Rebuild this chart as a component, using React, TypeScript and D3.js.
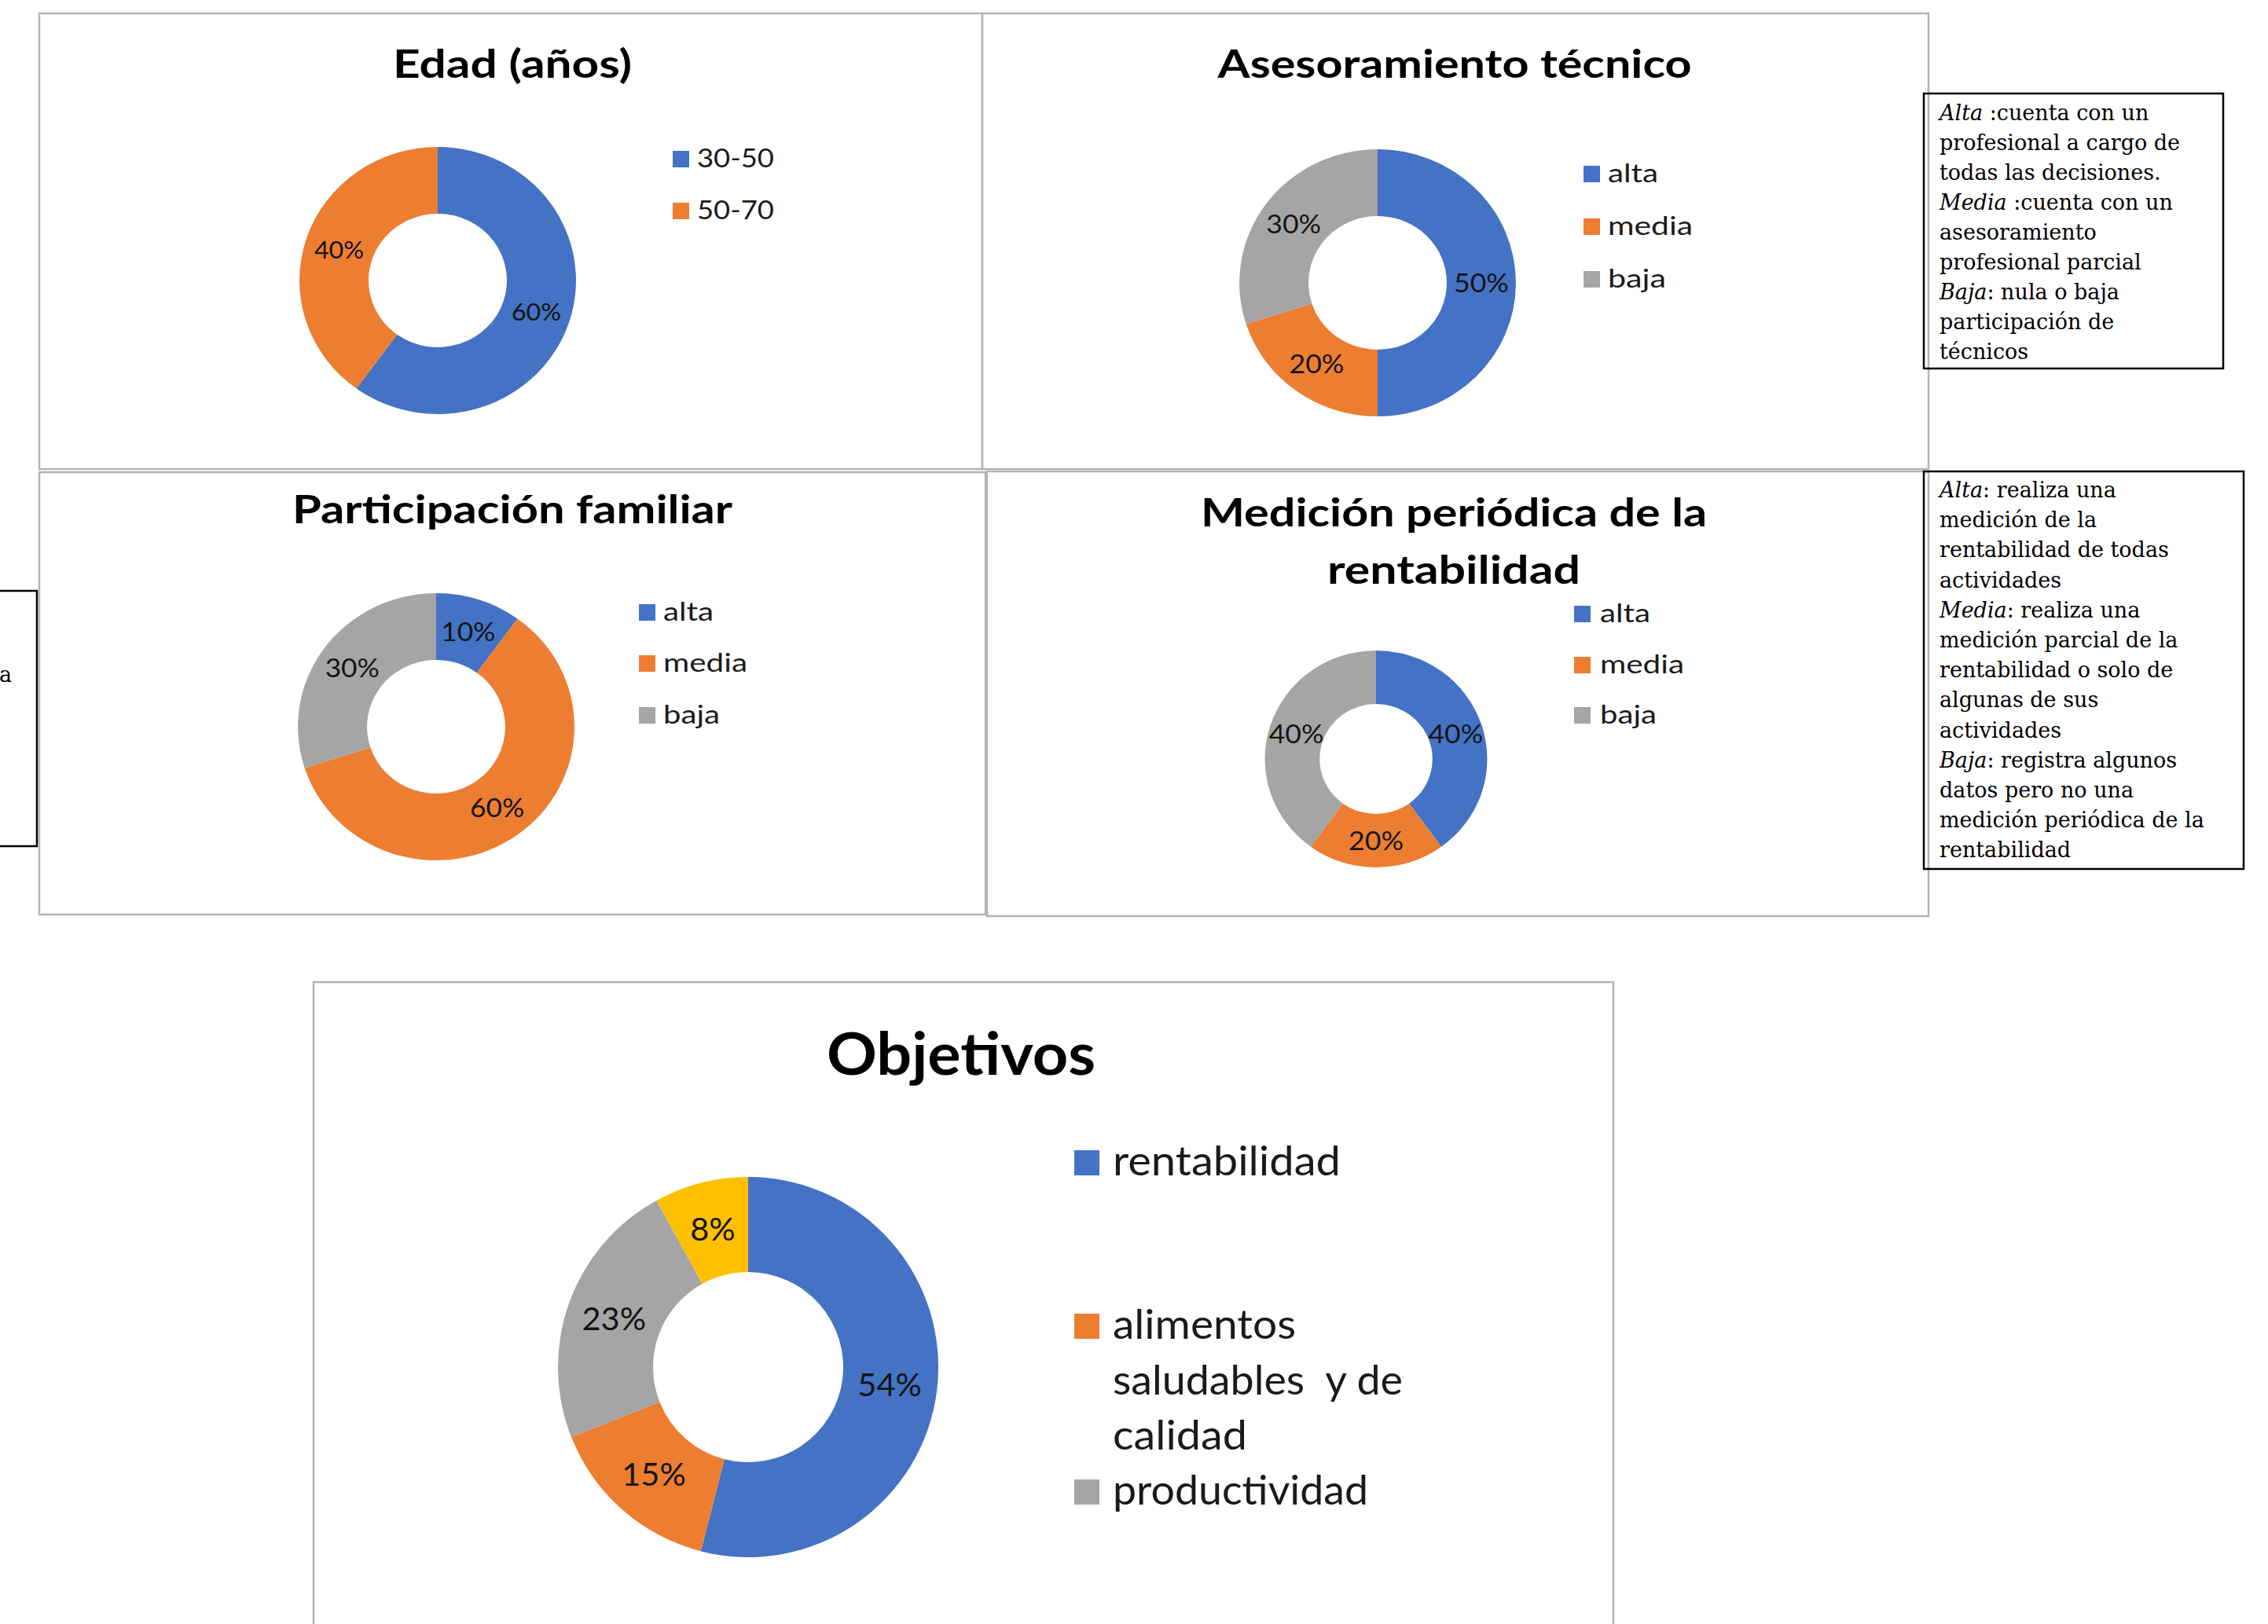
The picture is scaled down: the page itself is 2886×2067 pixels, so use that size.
import React from "react";
import * as d3 from "d3";

// ---------- data ----------
const COLORS = ["#4472C4", "#ED7D31", "#A5A5A5", "#FFC000"];

const edadTitle = ["Edad (años)"];
const edadCategories = ["30-50", "50-70"];
const edadValues = [60, 40];

const asesTitle = ["Asesoramiento técnico"];
const asesCategories = ["alta", "media", "baja"];
const asesValues = [50, 20, 30];

const partTitle = ["Participación familiar"];
const partCategories = ["alta", "media", "baja"];
const partValues = [10, 60, 30];

const medTitle = ["Medición periódica de la", "rentabilidad"];
const medCategories = ["alta", "media", "baja"];
const medValues = [40, 20, 40];

const objTitle = ["Objetivos"];
const objCategories = ["rentabilidad", "alimentos\nsaludables  y de\ncalidad", "productividad", ""];
const objValues = [54, 15, 23, 8];

// notes: [italic part, regular part]
const note1Lines: [string, string][] = [
  ["Alta", " :cuenta con un"],
  ["", "profesional a cargo de"],
  ["", "todas las decisiones."],
  ["Media", " :cuenta con un"],
  ["", "asesoramiento"],
  ["", "profesional parcial"],
  ["Baja", ": nula o baja"],
  ["", "participación de"],
  ["", "técnicos"],
];
const note2Lines: [string, string][] = [
  ["Alta", ": realiza una"],
  ["", "medición de la"],
  ["", "rentabilidad de todas"],
  ["", "actividades"],
  ["Media", ": realiza una"],
  ["", "medición parcial de la"],
  ["", "rentabilidad o solo de"],
  ["", "algunas de sus"],
  ["", "actividades"],
  ["Baja", ": registra algunos"],
  ["", "datos pero no una"],
  ["", "medición periódica de la"],
  ["", "rentabilidad"],
];

// ---------- layout ----------
const SANS = "Lato, 'Open Sans', 'Noto Sans', sans-serif";
const SERIF = "'DejaVu Serif', Georgia, serif";

const charts = [
  {
    title: edadTitle, cats: edadCategories, vals: edadValues,
    frame: [50, 17, 1250, 597],
    t: { x: 652, ys: [99], size: 50, widths: [304] },
    d: { cx: 557, cy: 357, ro: 170, ri: 85, sx: 1.035 },
    l: { size: 31, k: 1.04 },
    g: { sqX: 856, sq: 21, tx: 887, ys: [213, 279], size: 33, widths: [[98], [98]], gap: 0 },
  },
  {
    title: asesTitle, cats: asesCategories, vals: asesValues,
    frame: [1250, 17, 2454, 597],
    t: { x: 1851, ys: [99], size: 50, widths: [603] },
    d: { cx: 1753, cy: 360, ro: 170, ri: 85, sx: 1.035 },
    l: { size: 33, k: 1.08 },
    g: { sqX: 2015, sq: 21, tx: 2046, ys: [232, 299, 366], size: 33, widths: [[64], [108], [74]], gap: 0 },
  },
  {
    title: partTitle, cats: partCategories, vals: partValues,
    frame: [50, 601, 1254, 1164],
    t: { x: 652, ys: [666], size: 50, widths: [560] },
    d: { cx: 555, cy: 925, ro: 170, ri: 85, sx: 1.035 },
    l: { size: 33, k: 1.07 },
    g: { sqX: 813, sq: 21, tx: 844, ys: [790, 855, 921], size: 33, widths: [[64], [107], [72]], gap: 0 },
  },
  {
    title: medTitle, cats: medCategories, vals: medValues,
    frame: [1256, 600, 2454, 1166],
    t: { x: 1850, ys: [670, 743], size: 50, widths: [644, 322] },
    d: { cx: 1751, cy: 966, ro: 138, ri: 70, sx: 1.025 },
    l: { size: 33, k: 1.08 },
    g: { sqX: 2003, sq: 21, tx: 2036, ys: [792, 857, 921], size: 33, widths: [[64], [107], [72]], gap: 0 },
  },
  {
    title: objTitle, cats: objCategories, vals: objValues,
    frame: [399, 1250, 2053, 2120],
    t: { x: 1223, ys: [1368], size: 74, widths: [342] },
    d: { cx: 952, cy: 1740, ro: 242, ri: 121, sx: 1 },
    l: { size: 40, k: 1.04 },
    g: { sqX: 1367, sq: 32, tx: 1416, ys: [1496, 1704, 1915], size: 53, widths: [[290], [233, 369, 171], [325]], gap: 70.5 },
  },
];

function Chart({ c }: { c: any }) {
  const [x0, y0, x1, y1] = c.frame;
  const pie = d3.pie<number>().sort(null).value((v) => v);
  const arcs = pie(c.vals);
  const arc = d3.arc<d3.PieArcDatum<number>>().innerRadius(c.d.ri).outerRadius(c.d.ro);
  return (
    <g>
      <rect x={x0} y={y0} width={x1 - x0} height={y1 - y0} fill="#fff" stroke="#B4B4B4" strokeWidth={2.5} />
      {c.title.map((t: string, i: number) => (
        <text key={i} x={c.t.x} y={c.t.ys[i]} textAnchor="middle" fontFamily={SANS} fontWeight={700}
          fontSize={c.t.size} fill="#000" textLength={c.t.widths[i]} lengthAdjust="spacingAndGlyphs">{t}</text>
      ))}
      <g transform={`translate(${c.d.cx},${c.d.cy}) scale(${c.d.sx},1)`}>
        {arcs.map((a, i) => (
          <path key={i} d={arc(a) || ""} fill={COLORS[i]} />
        ))}
      </g>
      {arcs.map((a, i) => {
        const [lx, ly] = arc.centroid(a);
        return (
          <text key={i} transform={`translate(${c.d.cx + lx * c.d.sx},${c.d.cy + ly}) scale(${c.l.k},1)`}
            textAnchor="middle" dy="0.36em" fontFamily={SANS} fontSize={c.l.size} fill="#141414">
            {`${c.vals[i]}%`}
          </text>
        );
      })}
      {c.cats.map((cat: string, i: number) => {
        if (!cat) return null;
        const y = c.g.ys[i];
        const lines = cat.split("\n");
        return (
          <g key={i}>
            <rect x={c.g.sqX} y={y - c.g.sq} width={c.g.sq} height={c.g.sq} fill={COLORS[i]} />
            {lines.map((ln, j) => (
              <text key={j} x={c.g.tx} y={y + j * c.g.gap} fontFamily={SANS} fontSize={c.g.size} fill="#1a1a1a"
                style={{ whiteSpace: "pre" }} textLength={c.g.widths[i][j]} lengthAdjust="spacingAndGlyphs">{ln}</text>
            ))}
          </g>
        );
      })}
    </g>
  );
}

function Note({ lines, x, y, w, h, tx, ty, lh }: any) {
  return (
    <g>
      <rect x={x} y={y} width={w} height={h} fill="none" stroke="#000" strokeWidth={2.5} />
      {lines.map((ln: [string, string], i: number) => (
        <text key={i} x={tx} y={ty + i * lh} fontFamily={SERIF} fontSize={27} fill="#000" style={{ whiteSpace: "pre" }}>
          {ln[0] ? <tspan fontStyle="italic">{ln[0]}</tspan> : null}
          <tspan>{ln[1]}</tspan>
        </text>
      ))}
    </g>
  );
}

export default function App() {
  return (
    <svg width={2886} height={2067} style={{ position: "absolute", left: 0, top: 0, background: "#fff" }}>
      <rect x={0} y={0} width={2886} height={2067} fill="#fff" />
      {/* partially visible note at the left */}
      <rect x={-10} y={752} width={57} height={325} fill="none" stroke="#000" strokeWidth={2.5} />
      <text x={15} y={868} textAnchor="end" fontFamily={SERIF} fontSize={27}>a</text>
      {charts.map((c, i) => (
        <Chart key={i} c={c} />
      ))}
      <Note lines={note1Lines} x={2448} y={119} w={381} h={350} tx={2468} ty={153} lh={38} />
      <Note lines={note2Lines} x={2448} y={600} w={407} h={506} tx={2468} ty={633} lh={38.2} />
    </svg>
  );
}
